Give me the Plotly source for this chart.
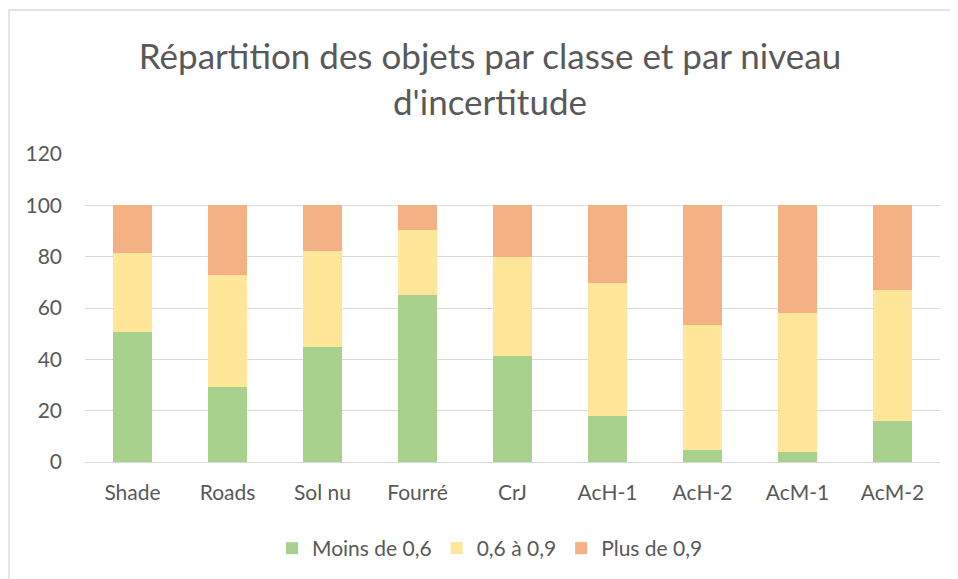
import plotly.graph_objects as go

categories = ["Shade", "Roads", "Sol nu", "Fourré", "CrJ", "AcH-1", "AcH-2", "AcM-1", "AcM-2"]
moins_06 = [50.7, 29.1, 45.0, 65.0, 41.2, 18.1, 4.8, 3.8, 15.9]
entre_06_09 = [30.7, 43.6, 37.4, 25.2, 38.8, 51.6, 48.4, 54.3, 51.2]
plus_09 = [18.6, 27.3, 17.6, 9.8, 20.0, 30.3, 46.8, 41.9, 32.9]
series_names = ["Moins de 0,6", "0,6 à 0,9", "Plus de 0,9"]
colors = ["#A9D18E", "#FFE699", "#F4B183"]
tick_vals = [0, 20, 40, 60, 80, 100, 120]

OFF = 8  # browser body margin
W, H = 958 - OFF, 579 - OFF
# reference pixel positions
PL, PR, PT, PB = 85, 940, 154, 462
L, T = PL - OFF, PT - OFF
R = W - (PR - OFF)
B = H - (PB - OFF)
FONT = "Lato, Open Sans, sans-serif"
TXT = "#595959"

fig = go.Figure()
for name, vals, col in zip(series_names, [moins_06, entre_06_09, plus_09], colors):
    fig.add_trace(go.Bar(
        x=categories, y=vals, name=name,
        marker=dict(color=col, line=dict(width=0)),
    ))

pw = W - L - R
ph = H - T - B
fig.add_shape(type="rect", xref="paper", yref="paper",
              x0=(9 - PL) / pw, x1=(1000 - PL) / pw,
              y0=(PB - 620) / ph, y1=(PB - 10) / ph,
              line=dict(color="#D9D9D9", width=1.3), fillcolor="rgba(0,0,0,0)", layer="below")

fig.update_layout(
    width=W, height=H,
    margin=dict(l=L, r=R, t=T, b=B),
    paper_bgcolor="white", plot_bgcolor="white",
    barmode="stack", bargap=0.59,
    title=dict(text="Répartition des objets par classe et par niveau<br>d'incertitude",
               x=(490 - OFF) / W, xanchor="center", xref="container",
               y=1 - (69 - OFF) / H, yanchor="top", yref="container",
               font=dict(family=FONT, size=35, color=TXT)),
    font=dict(family=FONT, size=21, color=TXT),
    xaxis=dict(showgrid=False, showline=False, ticks="", ticklabelstandoff=16,
               tickfont=dict(size=21, color=TXT)),
    yaxis=dict(range=[0, 120], tickvals=tick_vals, showgrid=True, gridcolor="#D9D9D9",
               gridwidth=1.3, zeroline=True, zerolinecolor="#D9D9D9", zerolinewidth=1.3,
               showline=False, ticks="", ticklabelstandoff=22,
               tickfont=dict(size=21, color=TXT)),
    legend=dict(orientation="h", x=(490 - OFF) / W, xref="container", xanchor="center",
                y=1 - (528 - OFF) / H, yref="container", yanchor="top",
                font=dict(size=21, color=TXT), itemwidth=30, traceorder="normal"),
    showlegend=True,
)

fig.write_html("out.html")
